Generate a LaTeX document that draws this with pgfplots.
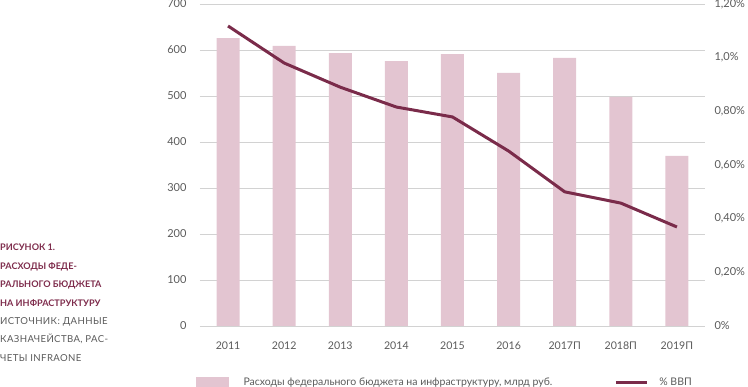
\documentclass[border=0pt]{standalone}
\usepackage{pgfplots}
\pgfplotsset{compat=1.18}
\usepackage{fontspec}
\setmainfont{Lato}
\definecolor{barpink}{HTML}{E3C5D1}
\definecolor{linered}{HTML}{7A2B4A}
\definecolor{txtgrey}{HTML}{5A5A5A}
\definecolor{gridgrey}{HTML}{D2D2D2}
\definecolor{capred}{HTML}{7E2C4C}

\begin{document}
\begin{tikzpicture}
\path[use as bounding box] (0pt,0pt) rectangle (748pt,387pt);
\node[anchor=north west, inner sep=0pt, align=left, font=\fontsize{9.6}{18.4}\selectfont] at (0pt,143pt)
{{\color{capred}\fontsize{9.1}{18.4}\selectfont\bfseries РИСУНОК 1.}\\
{\color{capred}\fontsize{9.1}{18.4}\selectfont\bfseries РАСХОДЫ ФЕДЕ-}\\
{\color{capred}\fontsize{9.1}{18.4}\selectfont\bfseries РАЛЬНОГО БЮДЖЕТА}\\
{\color{capred}\fontsize{9.1}{18.4}\selectfont\bfseries НА ИНФРАСТРУКТУРУ}\\
{\color{txtgrey}\addfontfeatures{LetterSpace=4}ИСТОЧНИК: ДАННЫЕ}\\
{\color{txtgrey}\addfontfeatures{LetterSpace=4}КАЗНАЧЕЙСТВА, РАС-}\\
{\color{txtgrey}\addfontfeatures{LetterSpace=4}ЧЕТЫ INFRAONE}};

\begin{axis}[
  at={(200pt,61pt)}, anchor=south west,
  scale only axis, width=505pt, height=322pt,
  xmin=-0.5, xmax=8.5, ymin=0, ymax=700,
  ytick={0,100,200,300,400,500,600,700},
  yticklabels={0,100,200,300,400,500,600,700},
  xtick={0,1,2,3,4,5,6,7,8},
  xticklabels={2011,2012,2013,2014,2015,2016,2017П,2018П,2019П},
  ymajorgrids, grid style={gridgrey, line width=0.9pt},
  axis line style={draw=none}, major tick length=0pt,
  tick label style={font=\fontsize{10.6}{12}\selectfont, text=txtgrey},
  yticklabel style={anchor=east, xshift=-10pt, font=\fontsize{11}{12}\selectfont},
  xticklabel style={anchor=north, yshift=-12pt},
]
\addplot[ybar, bar width=23pt, fill=barpink, draw=none] coordinates {
(0,626) (1,609) (2,593) (3,576) (4,591) (5,550) (6,583) (7,498) (8,370)};
\end{axis}

\begin{axis}[
  at={(200pt,61pt)}, anchor=south west,
  scale only axis, width=505pt, height=322pt,
  xmin=-0.5, xmax=8.5, ymin=0, ymax=1.2,
  axis y line*=right, axis x line=none,
  ytick={0,0.2,0.4,0.6,0.8,1.0,1.2},
  yticklabels={{0\%},{0,20\%},{0,40\%},{0,60\%},{0,80\%},{1,0\%},{1,20\%}},
  axis line style={draw=none}, major tick length=0pt,
  tick label style={font=\fontsize{11}{12}\selectfont, text=txtgrey},
  yticklabel style={anchor=west, xshift=6pt},
  legend columns=2,
  legend style={at={(-0.014,-0.174)}, anchor=west, draw=none, fill=none,
    font=\fontsize{10.5}{12}\selectfont, text=txtgrey,
    /tikz/every even column/.append style={column sep=62pt},
    nodes={inner xsep=0pt}},
]
\addlegendimage{legend image code/.code={\fill[barpink] (0pt,-5pt) rectangle (32pt,5pt); \path (47pt,0pt);}}
\addlegendentry{Расходы федерального бюджета на инфраструктуру, млрд руб.}
\addplot[linered, line width=3pt, line join=round,
  legend image code/.code={\draw[linered, line width=3pt] (0pt,0pt) -- (31pt,0pt); \path (42pt,0pt);}]
coordinates {(0,1.118) (1,0.98) (2,0.89) (3,0.816) (4,0.779) (5,0.652) (6,0.50) (7,0.458) (8,0.369)};
\addlegendentry{\% ВВП}
\end{axis}
\end{tikzpicture}
\end{document}
